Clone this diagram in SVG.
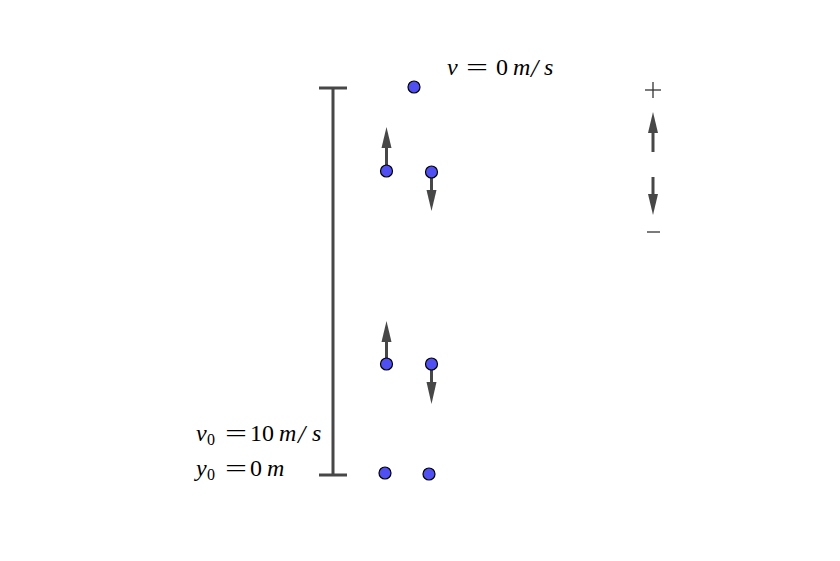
<svg xmlns="http://www.w3.org/2000/svg" width="840" height="561" viewBox="0 0 840 561">
<style>
.ball{fill:#5050f2;stroke:#000;stroke-width:1.2}
.stem{stroke:#474747;stroke-width:3;fill:none}
.head{fill:#474747}
.bar{stroke:#474747;stroke-width:3;fill:none}
.t{font-family:"Liberation Serif",serif;font-size:24px;fill:#000}
.i{font-style:italic}
.sub{font-size:16px}
.sl{font-size:26px;font-style:italic}
</style>
<rect width="840" height="561" fill="#fff"/>
<g id="connectors">
<g id="height-bar">
<line class="bar" x1="333" y1="88" x2="333" y2="475"/>
<line class="bar" x1="319" y1="88" x2="347" y2="88"/>
<line class="bar" x1="319" y1="475" x2="347" y2="475"/>
</g>
<g id="arrow-up-1"><line class="stem" x1="386.5" y1="168" x2="386.5" y2="145"/><polygon class="head" points="386.5,127 381.5,148 391.5,148"/></g>
<g id="arrow-down-1"><line class="stem" x1="431.5" y1="175" x2="431.5" y2="192"/><polygon class="head" points="431.5,211 426.5,190 436.5,190"/></g>
<g id="arrow-up-2"><line class="stem" x1="386.5" y1="361" x2="386.5" y2="340"/><polygon class="head" points="386.5,321 381.5,342 391.5,342"/></g>
<g id="arrow-down-2"><line class="stem" x1="431.5" y1="367" x2="431.5" y2="384"/><polygon class="head" points="431.5,404 426.5,382 436.5,382"/></g>
<g id="legend-up"><line class="stem" x1="653" y1="152" x2="653" y2="131"/><polygon class="head" points="653,112 648,133 658,133"/></g>
<g id="legend-down"><line class="stem" x1="653" y1="177" x2="653" y2="197"/><polygon class="head" points="653,215 648,194 658,194"/></g>
</g>
<g id="ball-top"><circle class="ball" cx="414" cy="87" r="6"/></g>
<g id="ball-up-1"><circle class="ball" cx="386.5" cy="171" r="6"/></g>
<g id="ball-down-1"><circle class="ball" cx="431.5" cy="172" r="6"/></g>
<g id="ball-up-2"><circle class="ball" cx="386.5" cy="364" r="6"/></g>
<g id="ball-down-2"><circle class="ball" cx="431.5" cy="364" r="6"/></g>
<g id="ball-start-1"><circle class="ball" cx="385" cy="473" r="6"/></g>
<g id="ball-start-2"><circle class="ball" cx="429" cy="474" r="6"/></g>
<g id="label-v">
<text class="t" y="75"><tspan class="i" x="447">v</tspan><tspan x="496">0</tspan><tspan class="i" x="513">m</tspan><tspan class="sl" x="531" dy="2">/</tspan><tspan class="i" x="544" dy="-2">s</tspan></text>
<text class="t" x="466" y="75" textLength="22" lengthAdjust="spacingAndGlyphs">=</text>
</g>
<g id="label-v0">
<text class="t" y="441"><tspan class="i" x="196">v</tspan><tspan class="sub" x="207" dy="4">0</tspan><tspan x="250" dy="-4">10</tspan><tspan class="i" x="279">m</tspan><tspan class="sl" x="298" dy="2">/</tspan><tspan class="i" x="312" dy="-2">s</tspan></text>
<text class="t" x="225" y="441" textLength="22" lengthAdjust="spacingAndGlyphs">=</text>
</g>
<g id="label-y0">
<text class="t" y="476"><tspan class="i" x="196">y</tspan><tspan class="sub" x="207" dy="4">0</tspan><tspan x="250" dy="-4">0</tspan><tspan class="i" x="267">m</tspan></text>
<text class="t" x="225" y="476" textLength="22" lengthAdjust="spacingAndGlyphs">=</text>
</g>
<g id="legend-plus"><line x1="645" y1="90" x2="661" y2="90" stroke="#333" stroke-width="1.3"/><line x1="653" y1="82" x2="653" y2="98" stroke="#333" stroke-width="1.3"/></g>
<g id="legend-minus"><line x1="647" y1="232" x2="660" y2="232" stroke="#333" stroke-width="1.3"/></g>
</svg>
